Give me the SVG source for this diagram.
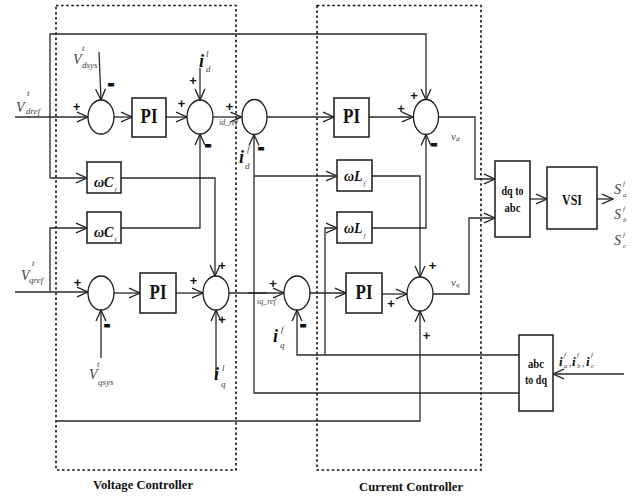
<svg xmlns="http://www.w3.org/2000/svg" width="636" height="499" viewBox="0 0 636 499">
<defs>
<marker id="ah" markerUnits="userSpaceOnUse" markerWidth="11" markerHeight="11" viewBox="0 0 10 10" refX="10" refY="5" orient="auto" overflow="visible">
<path d="M0,0.5 L10,5 L0,9.5" fill="none" stroke="#222" stroke-width="1.2"/>
</marker>
<style>
.ln{fill:none;stroke:#2a2a2a;stroke-width:1.3}
.box{fill:#fff;stroke:#1a1a1a;stroke-width:1.5}
.sum{fill:#fff;stroke:#1a1a1a;stroke-width:1.3}
.dot{fill:none;stroke:#111;stroke-width:1.6;stroke-dasharray:2.5 2.6}
.pl{font-family:"Liberation Sans",Arial,sans-serif;font-weight:bold;font-size:13px;text-anchor:middle;fill:#111}
.mi{font-family:"Liberation Sans",Arial,sans-serif;font-weight:bold;font-size:20px;text-anchor:middle;fill:#111;stroke:#111;stroke-width:0.9}
.bt{font-family:"Liberation Serif","Times New Roman",serif;font-weight:bold;fill:#111;text-anchor:middle}
.vl{font-family:"Liberation Serif","Times New Roman",serif;font-style:italic;fill:#444}
.il{font-family:"Liberation Serif","Times New Roman",serif;font-style:italic;font-weight:bold;fill:#111}
.wl{font-family:"Liberation Serif","Times New Roman",serif;font-style:italic;font-weight:bold;fill:#111;font-size:14px}
</style>
</defs>
<rect width="636" height="499" fill="#fff"/>

<g id="voltage-controller">
<rect class="dot" x="56" y="5.5" width="180" height="464.5"/>
<text class="bt" x="143" y="489" font-size="13" textLength="100" lengthAdjust="spacingAndGlyphs">Voltage Controller</text>
</g>
<g id="current-controller">
<rect class="dot" x="317" y="5.5" width="164" height="464.5"/>
<text class="bt" x="411" y="491" font-size="13" textLength="104" lengthAdjust="spacingAndGlyphs">Current Controller</text>
</g>

<g id="connectors">
<path class="ln" d="M15,117 H88" marker-end="url(#ah)"/>
<path class="ln" d="M50,178 V34 H426 V100" marker-end="url(#ah)"/>
<path class="ln" d="M50,178 H87" marker-end="url(#ah)"/>
<path class="ln" d="M99,52 L101,100" marker-end="url(#ah)"/>
<path class="ln" d="M114,117 H132" marker-end="url(#ah)"/>
<path class="ln" d="M166,117 H187" marker-end="url(#ah)"/>
<path class="ln" d="M200,68 V100" marker-end="url(#ah)"/>
<path class="ln" d="M121,228 H200 V134" marker-end="url(#ah)"/>
<path class="ln" d="M213,117 H241.5" marker-end="url(#ah)"/>
<path class="ln" d="M267,117 H334" marker-end="url(#ah)"/>
<path class="ln" d="M369,117 H413" marker-end="url(#ah)"/>
<path class="ln" d="M372,228 H426 V134.5" marker-end="url(#ah)"/>
<path class="ln" d="M438,117 H475 V179 H495" marker-end="url(#ah)"/>
<path class="ln" d="M519,393 H254 V134.5" marker-end="url(#ah)"/>
<path class="ln" d="M254,176 H337" marker-end="url(#ah)"/>
<path class="ln" d="M121,178 H215 V276" marker-end="url(#ah)"/>
<path class="ln" d="M15,292 H88" marker-end="url(#ah)"/>
<path class="ln" d="M50,292 V228 H87" marker-end="url(#ah)"/>
<path class="ln" d="M57,421 H420 V311" marker-end="url(#ah)"/>
<path class="ln" d="M101,358 V310" marker-end="url(#ah)"/>
<path class="ln" d="M114,293 H140" marker-end="url(#ah)"/>
<path class="ln" d="M176,293 H203" marker-end="url(#ah)"/>
<path class="ln" d="M216,377 V310" marker-end="url(#ah)"/>
<path class="ln" d="M229,293 H284" marker-end="url(#ah)"/>
<path class="ln" d="M248,293 H267" stroke-width="2.6"/>
<path class="ln" d="M310,293 H346" marker-end="url(#ah)"/>
<path class="ln" d="M382,294 H407" marker-end="url(#ah)"/>
<path class="ln" d="M372,176 H420 V277" marker-end="url(#ah)"/>
<path class="ln" d="M433,294 H469 V218 H495" marker-end="url(#ah)"/>
<path class="ln" d="M519,355 H297 V310" marker-end="url(#ah)"/>
<path class="ln" d="M325,355 V228 H337" marker-end="url(#ah)"/>
<path class="ln" d="M530,199 H547" marker-end="url(#ah)"/>
<path class="ln" d="M597,199 H613" marker-end="url(#ah)"/>
<path class="ln" d="M624,374 H553" marker-end="url(#ah)"/>
</g>

<g id="sum-vd">
<ellipse class="sum" cx="101" cy="117" rx="13" ry="17"/>
<text class="pl" x="76.5" y="111">+</text>
<text class="mi" x="111" y="90">-</text>
</g>
<g id="pi-v-d">
<rect class="box" x="132" y="98" width="34" height="39"/>
<text class="bt" x="149" y="123" font-size="22" textLength="17" lengthAdjust="spacingAndGlyphs">PI</text>
</g>
<g id="sum-id-ref">
<ellipse class="sum" cx="200" cy="117" rx="13" ry="17"/>
<text class="pl" x="193" y="84.5">+</text>
<text class="pl" x="181.5" y="107.5">+</text>
<text class="mi" x="208" y="151">-</text>
</g>
<g id="sum-id">
<ellipse class="sum" cx="254.5" cy="117" rx="12.5" ry="17.5"/>
<text class="pl" x="229.5" y="111">+</text>
<text class="mi" x="261" y="153.5">-</text>
</g>
<g id="pi-c-d">
<rect class="box" x="334" y="98" width="35" height="39"/>
<text class="bt" x="351.5" y="123" font-size="22" textLength="17" lengthAdjust="spacingAndGlyphs">PI</text>
</g>
<g id="sum-vd-out">
<ellipse class="sum" cx="426" cy="117" rx="12.5" ry="17.5"/>
<text class="pl" x="414" y="99.5">+</text>
<text class="pl" x="401" y="112.5">+</text>
<text class="mi" x="434" y="150">-</text>
</g>
<g id="wcf-1">
<rect class="box" x="87" y="162" width="34" height="31"/>
<text class="wl" x="94" y="187">ωC</text>
<text class="vl" x="114.5" y="192" font-size="7">f</text>
</g>
<g id="wcf-2">
<rect class="box" x="87" y="212" width="34" height="31"/>
<text class="wl" x="94" y="237">ωC</text>
<text class="vl" x="114.5" y="242" font-size="7">f</text>
</g>
<g id="wlf-1">
<rect class="box" x="337" y="160" width="35" height="31"/>
<text class="wl" x="344" y="181">ωL</text>
<text class="vl" x="363.5" y="186" font-size="7">f</text>
</g>
<g id="wlf-2">
<rect class="box" x="337" y="212" width="35" height="31"/>
<text class="wl" x="344" y="233">ωL</text>
<text class="vl" x="363.5" y="238" font-size="7">f</text>
</g>
<g id="dq-to-abc">
<rect class="box" x="495" y="161" width="35" height="76"/>
<text class="bt" x="512.5" y="195" font-size="12" textLength="22" lengthAdjust="spacingAndGlyphs">dq to</text>
<text class="bt" x="512.5" y="212" font-size="12" textLength="16" lengthAdjust="spacingAndGlyphs">abc</text>
</g>
<g id="vsi">
<rect class="box" x="547" y="167" width="50" height="62"/>
<text class="bt" x="572" y="205" font-size="14" textLength="20" lengthAdjust="spacingAndGlyphs">VSI</text>
</g>
<g id="abc-to-dq">
<rect class="box" x="519" y="335" width="34" height="76"/>
<text class="bt" x="536" y="368" font-size="12" textLength="16" lengthAdjust="spacingAndGlyphs">abc</text>
<text class="bt" x="536" y="384" font-size="12" textLength="22" lengthAdjust="spacingAndGlyphs">to dq</text>
</g>
<g id="sum-vq">
<ellipse class="sum" cx="101" cy="293" rx="13" ry="17"/>
<text class="pl" x="77.5" y="287">+</text>
<text class="mi" x="107" y="331">-</text>
</g>
<g id="pi-v-q">
<rect class="box" x="140" y="273" width="36" height="40"/>
<text class="bt" x="158" y="299" font-size="22" textLength="17" lengthAdjust="spacingAndGlyphs">PI</text>
</g>
<g id="sum-iq-ref">
<ellipse class="sum" cx="216" cy="293" rx="13" ry="17"/>
<text class="pl" x="222" y="269.5">+</text>
<text class="pl" x="193.5" y="285">+</text>
<text class="pl" x="222" y="324">+</text>
</g>
<g id="sum-iq">
<ellipse class="sum" cx="297" cy="293" rx="13" ry="17"/>
<text class="pl" x="273" y="287.5">+</text>
<text class="mi" x="303" y="331">-</text>
</g>
<g id="pi-c-q">
<rect class="box" x="346" y="273" width="36" height="40"/>
<text class="bt" x="364" y="299" font-size="22" textLength="17" lengthAdjust="spacingAndGlyphs">PI</text>
</g>
<g id="sum-vq-out">
<ellipse class="sum" cx="420" cy="294" rx="13" ry="17"/>
<text class="pl" x="432.5" y="269.5">+</text>
<text class="pl" x="391" y="308">+</text>
<text class="pl" x="426.5" y="340">+</text>
</g>

<g id="labels">
<text class="vl" x="16" y="112" font-size="14">V</text>
<text class="vl" x="26" y="114" font-size="9">dref</text>
<text class="vl" x="27" y="96" font-size="9">t</text>

<text class="vl" x="73" y="64" font-size="14">V</text>
<text class="vl" x="82" y="68" font-size="9">dsys</text>
<text class="vl" x="82" y="51" font-size="9">t</text>

<text class="vl" x="21" y="280" font-size="14">V</text>
<text class="vl" x="29" y="283" font-size="9">qref</text>
<text class="vl" x="32" y="266" font-size="9">t</text>

<text class="vl" x="89" y="379" font-size="14">V</text>
<text class="vl" x="98" y="385" font-size="9">qsys</text>
<text class="vl" x="97" y="367" font-size="9">t</text>

<text class="il" x="199" y="67" font-size="18">i</text>
<text class="vl" x="206" y="57" font-size="9">l</text>
<text class="vl" x="206" y="72" font-size="9">d</text>

<text class="il" x="239" y="163" font-size="18">i</text>
<text class="vl" x="247" y="152" font-size="9">f</text>
<text class="vl" x="245" y="169" font-size="9">d</text>

<text class="il" x="273" y="342" font-size="18">i</text>
<text class="vl" x="281" y="332" font-size="9">f</text>
<text class="vl" x="280" y="348" font-size="9">q</text>

<text class="il" x="214" y="380" font-size="18">i</text>
<text class="vl" x="222" y="371" font-size="9">l</text>
<text class="vl" x="221" y="387" font-size="9">q</text>

<text class="vl" x="219" y="125" font-size="8">id_ref</text>
<text class="vl" x="257" y="304" font-size="8">iq_ref</text>

<text class="vl" x="451" y="140" font-size="11">v<tspan font-size="7" dy="1">d</tspan></text>
<text class="vl" x="451" y="286" font-size="11">v<tspan font-size="7" dy="1">q</tspan></text>

<text class="vl" x="614" y="194" font-size="14" fill="#333">S</text>
<text class="vl" x="623" y="186" font-size="7">f</text>
<text class="vl" x="623" y="197" font-size="7">a</text>
<text class="vl" x="614" y="219" font-size="14" fill="#333">S</text>
<text class="vl" x="623" y="211" font-size="7">f</text>
<text class="vl" x="623" y="222" font-size="7">b</text>
<text class="vl" x="614" y="245" font-size="14" fill="#333">S</text>
<text class="vl" x="623" y="237" font-size="7">f</text>
<text class="vl" x="623" y="248" font-size="7">c</text>

<text class="il" x="559" y="366" font-size="13">i</text>
<text class="vl" x="564" y="357" font-size="7">f</text>
<text class="vl" x="564" y="368" font-size="7">a</text>
<text class="vl" x="569" y="366" font-size="10">,</text>
<text class="il" x="572" y="366" font-size="13">i</text>
<text class="vl" x="577" y="357" font-size="7">f</text>
<text class="vl" x="577" y="368" font-size="7">b</text>
<text class="vl" x="582" y="366" font-size="10">,</text>
<text class="il" x="586" y="366" font-size="13">i</text>
<text class="vl" x="591" y="357" font-size="7">f</text>
<text class="vl" x="591" y="368" font-size="7">c</text>
</g>
</svg>
